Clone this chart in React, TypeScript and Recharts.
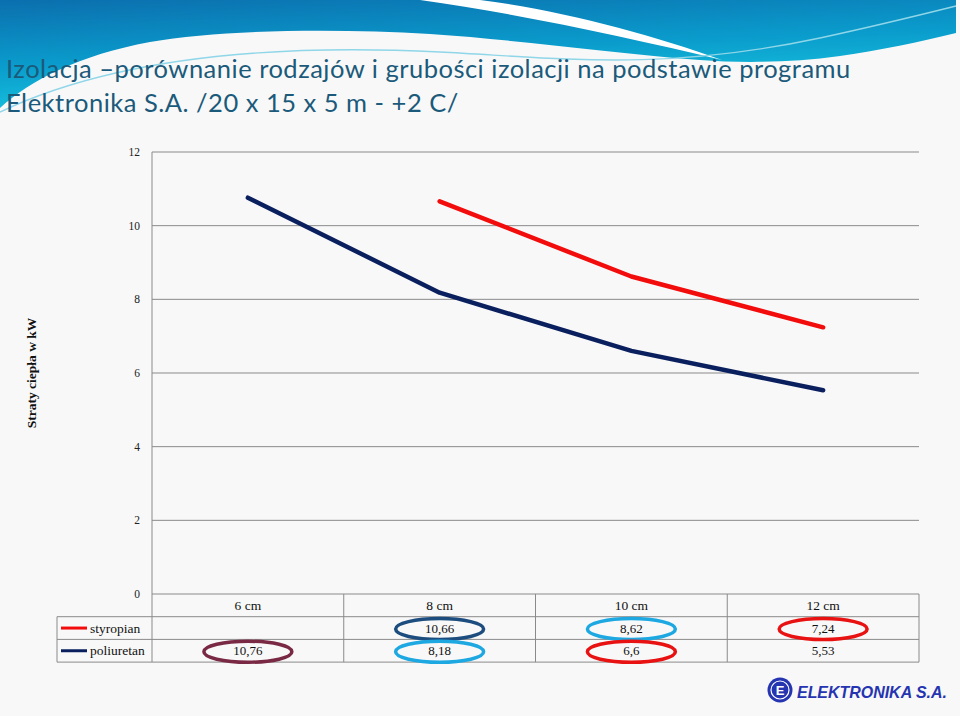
import { LineChart, Line, XAxis, YAxis, CartesianGrid } from "recharts";

const categories = ["6 cm", "8 cm", "10 cm", "12 cm"];
const styropian = [null, 10.66, 8.62, 7.24];
const poliuretan = [10.76, 8.18, 6.6, 5.53];
const yTicks = [0, 2, 4, 6, 8, 10, 12];

const series = [
  { key: "styropian", color: "#f20c0c", values: styropian },
  { key: "poliuretan", color: "#0a1f5e", values: poliuretan },
];

// kolorowe obwódki wokół wybranych wartości w tabeli
const rings = [
  { key: "styropian", index: 1, color: "#1d4d7e" },
  { key: "styropian", index: 2, color: "#1ea8e2" },
  { key: "styropian", index: 3, color: "#e81212" },
  { key: "poliuretan", index: 0, color: "#7a2944" },
  { key: "poliuretan", index: 1, color: "#1ea8e2" },
  { key: "poliuretan", index: 2, color: "#e81212" },
];

const data = categories.map((name, i) => ({
  name,
  styropian: styropian[i],
  poliuretan: poliuretan[i],
}));

const W = 960;
const H = 716;
const margin = { top: 152, right: 41, bottom: 122, left: 92 };
const Y_AXIS_W = 60;
const PLOT_L = margin.left + Y_AXIS_W;
const PLOT_R = W - margin.right;
const BAND = (PLOT_R - PLOT_L) / categories.length;
const TABLE_TOP = H - margin.bottom;
const ROW_H = 22.7;
const LEGEND_L = 57;
const SERIF = "'Liberation Serif', 'DejaVu Serif', serif";

const fmt = (v: number | null) => (v == null ? "" : String(v).replace(".", ","));

function Background() {
  return (
    <svg width={W} height={H} style={{ position: "absolute", left: 0, top: 0 }}>
      <defs>
        <linearGradient id="wave" x1="0" y1="0" x2="0.35" y2="1">
          <stop offset="0%" stopColor="#0b6fae" />
          <stop offset="55%" stopColor="#0a9ccc" />
          <stop offset="100%" stopColor="#18c4de" />
        </linearGradient>
      </defs>
      <rect width={W} height={H} fill="#f8f8f8" />
      <path
        d="M0,0 L956,0 L956,33 C920,42 880,50 840,56 C790,63 740,63 700,60 C600,52 520,40 430,34 C330,28 220,30 150,42 C80,55 30,80 0,108 Z"
        fill="url(#wave)"
      />
      <path d="M420,0 C520,14 630,38 722,60 C650,34 560,10 480,0 Z" fill="#ffffff" />
      <path
        d="M0,112 C120,55 280,44 440,52 C560,58 660,72 820,38 C880,25 920,15 956,6"
        fill="none"
        stroke="#8fd6e8"
        strokeWidth={1.4}
      />
    </svg>
  );
}

function DataTable() {
  const bottom = TABLE_TOP + ROW_H * 3;
  return (
    <svg width={W} height={H} style={{ position: "absolute", left: 0, top: 0, pointerEvents: "none" }}>
      {[1, 2, 3].map((r) => (
        <line
          key={r}
          x1={LEGEND_L}
          x2={PLOT_R}
          y1={TABLE_TOP + ROW_H * r}
          y2={TABLE_TOP + ROW_H * r}
          stroke="#8a8a8a"
        />
      ))}
      <line x1={LEGEND_L} x2={LEGEND_L} y1={TABLE_TOP + ROW_H} y2={bottom} stroke="#8a8a8a" />
      {categories.map((_, i) => (
        <line
          key={i}
          x1={PLOT_L + BAND * i}
          x2={PLOT_L + BAND * i}
          y1={TABLE_TOP}
          y2={bottom}
          stroke="#8a8a8a"
        />
      ))}
      <line x1={PLOT_R} x2={PLOT_R} y1={TABLE_TOP} y2={bottom} stroke="#8a8a8a" />

      {categories.map((c, i) => (
        <text
          key={c}
          x={PLOT_L + BAND * (i + 0.5)}
          y={TABLE_TOP + ROW_H / 2 + 4.5}
          textAnchor="middle"
          fontFamily={SERIF}
          fontSize={13.5}
          fill="#111"
        >
          {c}
        </text>
      ))}

      {series.map((s, r) => {
        const cy = TABLE_TOP + ROW_H * (r + 1.5);
        return (
          <g key={s.key}>
            <line x1={61} x2={87} y1={cy} y2={cy} stroke={s.color} strokeWidth={3} />
            <text x={90} y={cy + 4.5} fontFamily={SERIF} fontSize={13.5} fill="#111">
              {s.key}
            </text>
            {s.values.map((v, i) => (
              <text
                key={i}
                x={PLOT_L + BAND * (i + 0.5)}
                y={cy + 4.5}
                textAnchor="middle"
                fontFamily={SERIF}
                fontSize={13}
                fill="#111"
              >
                {fmt(v)}
              </text>
            ))}
          </g>
        );
      })}

      {rings.map((g, k) => {
        const r = series.findIndex((s) => s.key === g.key);
        return (
          <ellipse
            key={k}
            cx={PLOT_L + BAND * (g.index + 0.5)}
            cy={TABLE_TOP + ROW_H * (r + 1.5) + 1}
            rx={44}
            ry={10.5}
            fill="none"
            stroke={g.color}
            strokeWidth={3.5}
          />
        );
      })}
    </svg>
  );
}

function Logo() {
  return (
    <svg width={196} height={40} style={{ position: "absolute", left: 762, top: 670 }}>
      <circle cx={18} cy={20} r={12.5} fill="#2534b0" />
      <circle cx={18} cy={20} r={9} fill="none" stroke="#ffffff" strokeWidth={1.2} />
      <text
        x={18}
        y={25}
        textAnchor="middle"
        fontFamily="'Liberation Sans', Arial, sans-serif"
        fontWeight={700}
        fontSize={13}
        fill="#ffffff"
      >
        E
      </text>
      <text
        x={35}
        y={28}
        fontFamily="'Liberation Sans', Arial, sans-serif"
        fontWeight={900}
        fontStyle="italic"
        fontSize={17}
        fill="#2534b0"
        textLength={150}
        lengthAdjust="spacingAndGlyphs"
      >
        ELEKTRONIKA S.A.
      </text>
    </svg>
  );
}

export default function App() {
  return (
    <div style={{ position: "relative", width: W, height: H, overflow: "hidden" }}>
      <style>{"body{margin:0}"}</style>
      <Background />

      <div
        style={{
          position: "absolute",
          left: 6,
          top: 51,
          fontFamily: "Lato, 'Open Sans', sans-serif",
          fontSize: 25.5,
          letterSpacing: 0.5,
          lineHeight: "34px",
          color: "#1b5a7a",
          whiteSpace: "nowrap",
        }}
      >
        Izolacja –porównanie rodzajów i grubości izolacji na podstawie programu
        <br />
        Elektronika S.A. /20 x 15 x 5 m - +2 C/
      </div>

      <div style={{ position: "absolute", left: 0, top: 0 }}>
        <LineChart width={W} height={H} data={data} margin={margin}>
          <CartesianGrid vertical={false} stroke="#8a8a8a" strokeWidth={1} />
          <XAxis
            dataKey="name"
            scale="band"
            height={0}
            tick={false}
            tickLine={false}
            axisLine={{ stroke: "#8a8a8a" }}
          />
          <YAxis
            width={Y_AXIS_W}
            domain={[0, 12]}
            ticks={yTicks}
            tickSize={0}
            tickMargin={12}
            tickLine={false}
            axisLine={{ stroke: "#8a8a8a" }}
            tick={{ fontFamily: SERIF, fontSize: 11.5, fill: "#222" }}
          />
          {series.map((s) => (
            <Line
              key={s.key}
              dataKey={s.key}
              stroke={s.color}
              strokeWidth={4.5}
              strokeLinecap="round"
              strokeLinejoin="round"
              dot={false}
              activeDot={false}
              isAnimationActive={false}
            />
          ))}
        </LineChart>
      </div>

      <div
        style={{
          position: "absolute",
          left: 32,
          top: 373,
          transform: "translate(-50%, -50%) rotate(-90deg)",
          fontFamily: SERIF,
          fontWeight: 700,
          fontSize: 13.5,
          color: "#111",
          whiteSpace: "nowrap",
        }}
      >
        Straty ciepła w kW
      </div>

      <DataTable />
      <Logo />
    </div>
  );
}
